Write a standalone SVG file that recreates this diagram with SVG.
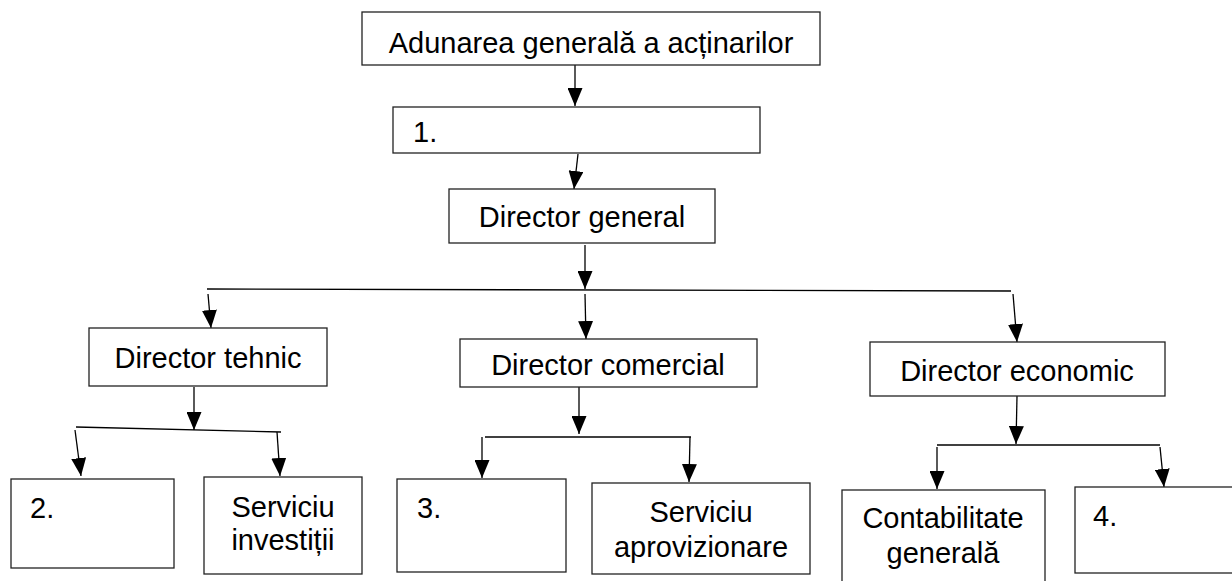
<svg xmlns="http://www.w3.org/2000/svg" width="1232" height="581" viewBox="0 0 1232 581">
<defs>
<style>
.box{fill:#fff;stroke:#222;stroke-width:1.3}
.t{font-family:"Liberation Sans",Arial,sans-serif;font-size:29px;fill:#000}
.m{text-anchor:middle}
.c{stroke:#000;stroke-width:1.3;fill:none}
.a{marker-end:url(#ah)}
</style>
<marker id="ah" markerUnits="userSpaceOnUse" markerWidth="18" markerHeight="15" refX="18" refY="7.5" orient="auto">
<path d="M0,0 L18,7.5 L0,15 z" fill="#000"/>
</marker>
</defs>
<rect width="1232" height="581" fill="#fff"/>
<g id="connectors">
<line class="c a" x1="575" y1="65" x2="575" y2="106"/>
<line class="c a" x1="578" y1="154" x2="574" y2="189"/>
<line class="c a" x1="585" y1="245" x2="585" y2="289"/>
<line class="c" x1="207" y1="289" x2="1011" y2="291"/>
<line class="c a" x1="208" y1="294" x2="211" y2="328"/>
<line class="c a" x1="585" y1="294" x2="586" y2="339"/>
<line class="c a" x1="1013" y1="294" x2="1017" y2="342"/>
<line class="c a" x1="194" y1="387" x2="194" y2="430"/>
<line class="c" x1="76" y1="427" x2="281" y2="432"/>
<line class="c a" x1="75" y1="430" x2="81" y2="476"/>
<line class="c a" x1="277" y1="432" x2="280" y2="476"/>
<line class="c a" x1="579" y1="387" x2="579" y2="434"/>
<line class="c" x1="485" y1="437" x2="691" y2="437"/>
<line class="c a" x1="482" y1="437" x2="482" y2="478"/>
<line class="c a" x1="690" y1="437" x2="689" y2="482"/>
<line class="c a" x1="1017" y1="396" x2="1016" y2="444"/>
<line class="c" x1="937" y1="445" x2="1160" y2="445"/>
<line class="c a" x1="937" y1="447" x2="937" y2="489"/>
<line class="c a" x1="1160" y1="447" x2="1164" y2="487"/>
</g>
<g id="adunarea">
<rect class="box" x="362" y="12" width="458" height="53"/>
<text class="t m" x="591" y="53">Adunarea generală a acținarilor</text>
</g>
<g id="n1">
<rect class="box" x="393" y="107" width="367" height="46"/>
<text class="t" x="413" y="142">1.</text>
</g>
<g id="director-general">
<rect class="box" x="449" y="189" width="266" height="54"/>
<text class="t m" x="582" y="227">Director general</text>
</g>
<g id="director-tehnic">
<rect class="box" x="89" y="328" width="238" height="58"/>
<text class="t m" x="208" y="368">Director tehnic</text>
</g>
<g id="director-comercial">
<rect class="box" x="460" y="339" width="297" height="48"/>
<text class="t m" x="608" y="375">Director comercial</text>
</g>
<g id="director-economic">
<rect class="box" x="870" y="342" width="295" height="54"/>
<text class="t m" x="1017" y="381">Director economic</text>
</g>
<g id="n2">
<rect class="box" x="11" y="479" width="163" height="89"/>
<text class="t" x="30" y="518">2.</text>
</g>
<g id="serviciu-investitii">
<rect class="box" x="204" y="477" width="158" height="97"/>
<text class="t m" x="283" y="517">Serviciu</text>
<text class="t m" x="283" y="550">investiții</text>
</g>
<g id="n3">
<rect class="box" x="397" y="479" width="169" height="93"/>
<text class="t" x="417" y="518">3.</text>
</g>
<g id="serviciu-aprovizionare">
<rect class="box" x="592" y="483" width="218" height="91"/>
<text class="t m" x="701" y="522">Serviciu</text>
<text class="t m" x="701" y="557">aprovizionare</text>
</g>
<g id="contabilitate">
<rect class="box" x="842" y="490" width="203" height="100"/>
<text class="t m" x="943" y="528">Contabilitate</text>
<text class="t m" x="943" y="563">generală</text>
</g>
<g id="n4">
<rect class="box" x="1075" y="487" width="170" height="86"/>
<text class="t" x="1093" y="526">4.</text>
</g>
</svg>
